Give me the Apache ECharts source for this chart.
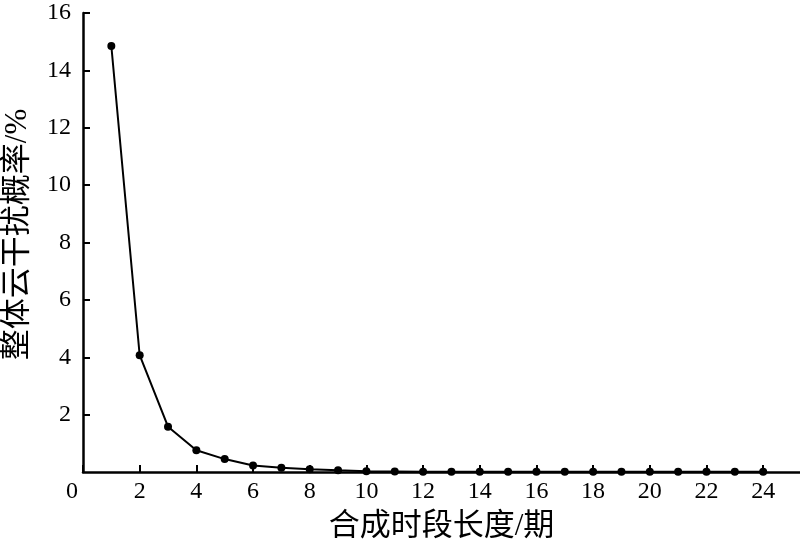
<!DOCTYPE html>
<html><head><meta charset="utf-8">
<script src="https://cdn.jsdelivr.net/npm/echarts@6/dist/echarts.min.js"></script>
<style>html,body{margin:0;padding:0;background:#fff}#c{width:800px;height:546px}</style>
</head><body><div id="c"></div>
<script>
const periods = [1,2,3,4,5,6,7,8,9,10,11,12,13,14,15,16,17,18,19,20,21,22,23,24];
const rates = [14.85,4.07,1.58,0.76,0.45,0.23,0.15,0.1,0.06,0.03,0.02,0.01,0.01,0.01,0.01,0.01,0.01,0.01,0.01,0.01,0.01,0.01,0.01,0.01];
const xName = '合成时段长度/期';
const yName = '整体云干扰概率/%';
const font = '"Liberation Serif","Times New Roman","Noto Sans CJK SC",serif';
const chart = echarts.init(document.getElementById('c'));
chart.setOption({
  animation:false,
  grid:{left:83,right:0,top:13,bottom:74,containLabel:false,outerBoundsMode:'none'},
  xAxis:{type:'value',min:0,max:25.3,interval:2,
    name:xName,nameLocation:'middle',nameGap:39,nameMoveOverlap:false,
    nameTextStyle:{fontFamily:font,fontSize:31,color:'#000'},
    axisLine:{onZero:false,lineStyle:{color:'#000',width:2.5}},
    axisTick:{inside:true,length:7,lineStyle:{color:'#000',width:2}},
    axisLabel:{fontFamily:font,fontSize:24,color:'#000',margin:8,showMaxLabel:false,
      formatter:v=>v===0?'{z|0}':String(v),
      rich:{z:{fontFamily:font,fontSize:24,color:'#000',padding:[0,22,0,0]}}},
    splitLine:{show:false}},
  yAxis:{type:'value',min:0,max:16,interval:2,
    name:yName,nameLocation:'middle',nameGap:50,nameMoveOverlap:false,
    nameTextStyle:{fontFamily:font,fontSize:31,color:'#000',padding:[0,0,0,16]},
    axisLine:{show:true,lineStyle:{color:'#000',width:2.5}},
    axisTick:{show:true,inside:true,length:7,lineStyle:{color:'#000',width:2}},
    axisLabel:{fontFamily:font,fontSize:24,color:'#000',margin:12,showMinLabel:false},
    splitLine:{show:false}},
  series:[{type:'line',data:periods.map((p,i)=>[p,rates[i]]),
    symbol:'circle',symbolSize:8,showSymbol:true,
    lineStyle:{color:'#000',width:2},itemStyle:{color:'#000'}}]
});
</script></body></html>
